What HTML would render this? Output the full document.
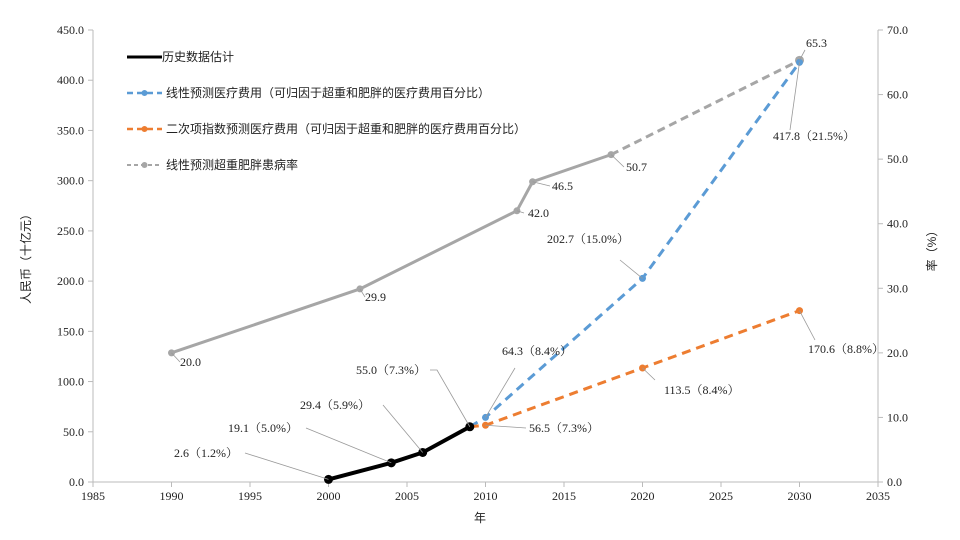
<!DOCTYPE html>
<html><head><meta charset="utf-8">
<style>
html,body{margin:0;padding:0;background:#fff;}
svg{display:block;font-family:"Liberation Serif","Noto Serif CJK SC",serif;}
.cj{font-family:"Liberation Sans","Noto Sans CJK SC",sans-serif;}
</style></head>
<body>
<svg id="chart" width="960" height="540" viewBox="0 0 960 540"></svg>
<script>
const xTicks=[1985,1990,1995,2000,2005,2010,2015,2020,2025,2030,2035];
const yTicks=[0,50,100,150,200,250,300,350,400,450];
const y2Ticks=[0,10,20,30,40,50,60,70];
const histYears=[2000,2004,2006,2009];
const histVals=[2.6,19.1,29.4,55.0];
const histLabels=["2.6（1.2%）","19.1（5.0%）","29.4（5.9%）","55.0（7.3%）"];
const linYears=[2009,2010,2020,2030];
const linVals=[55.0,64.3,202.7,417.8];
const linLabels=[null,"64.3（8.4%）","202.7（15.0%）","417.8（21.5%）"];
const quadYears=[2009,2010,2020,2030];
const quadVals=[55.0,56.5,113.5,170.6];
const quadLabels=[null,"56.5（7.3%）","113.5（8.4%）","170.6（8.8%）"];
const prevYears=[1990,2002,2012,2013,2018,2030];
const prevVals=[20.0,29.9,42.0,46.5,50.7,65.3];
const prevLabels=["20.0","29.9","42.0","46.5","50.7","65.3"];

const L=93,R=878,T=30,B=482;
const X=v=>L+(v-1985)/(2035-1985)*(R-L);
const Y=v=>B-v/450*(B-T);
const Y2=v=>B-v/70*(B-T);
const svg=document.getElementById('chart');
const NS='http://www.w3.org/2000/svg';
function mk(tag,attrs,parent){const e=document.createElementNS(NS,tag);for(const k in attrs)e.setAttribute(k,attrs[k]);(parent||svg).appendChild(e);return e;}
function txt(s,x,y,attrs){const t=mk('text',Object.assign({x:x,y:y,'font-size':12,fill:'#222'},attrs||{}));t.textContent=s;return t;}

let a=mk('line',{x1:L,y1:B,x2:R,y2:B,stroke:'#bbb'});

a=mk('line',{x1:L,y1:T,x2:L,y2:B,stroke:'#bbb'});

a=mk('line',{x1:R,y1:T,x2:R,y2:B,stroke:'#bbb'});

xTicks.forEach(v=>{mk('line',{x1:X(v),y1:B,x2:X(v),y2:B+5,stroke:'#bbb'});
 const t=txt(v,X(v),B+18,{'text-anchor':'middle'});
 });
yTicks.forEach(v=>{mk('line',{x1:L-5,y1:Y(v),x2:L,y2:Y(v),stroke:'#bbb'});
 const t=txt(v.toFixed(1),L-9,Y(v)+4,{'text-anchor':'end'});
 });
y2Ticks.forEach(v=>{mk('line',{x1:R,y1:Y2(v),x2:R+5,y2:Y2(v),stroke:'#bbb'});
 const t=txt(v.toFixed(1),R+9,Y2(v)+4,{});
 });
let t=txt('年',480,522,{'text-anchor':'middle',class:'cj'});

t=txt('人民币（十亿元）',0,0,{'text-anchor':'middle',class:'cj',transform:'translate(30,256) rotate(-90)'});

t=txt('率（%）',0,0,{'text-anchor':'middle',class:'cj',transform:'translate(936,248) rotate(-90)'});


function pts(xs,vs,f){return xs.map((x,i)=>X(x)+','+f(vs[i])).join(' ');}
let p=mk('polyline',{points:pts(prevYears.slice(0,5),prevVals.slice(0,5),Y2),fill:'none',stroke:'#a6a6a6','stroke-width':3});

p=mk('polyline',{points:pts(prevYears.slice(4),prevVals.slice(4),Y2),fill:'none',stroke:'#a6a6a6','stroke-width':3,'stroke-dasharray':'8,5'});

p=mk('polyline',{points:pts(linYears,linVals,Y),fill:'none',stroke:'#5b9bd5','stroke-width':3,'stroke-dasharray':'9,6'});

p=mk('polyline',{points:pts(quadYears,quadVals,Y),fill:'none',stroke:'#ed7d31','stroke-width':3,'stroke-dasharray':'9,6'});

p=mk('polyline',{points:pts(histYears,histVals,Y),fill:'none',stroke:'#000','stroke-width':4});


prevYears.forEach((x,i)=>{const c=mk('circle',{cx:X(x),cy:Y2(prevVals[i]),r:i==5?4.5:3.5,fill:'#a6a6a6'});
 });
linYears.forEach((x,i)=>{if(!i)return;const c=mk('circle',{cx:X(x),cy:Y(linVals[i]),r:3.5,fill:'#5b9bd5'});
 });
quadYears.forEach((x,i)=>{if(!i)return;const c=mk('circle',{cx:X(x),cy:Y(quadVals[i]),r:3.5,fill:'#ed7d31'});
 });
histYears.forEach((x,i)=>{const c=mk('circle',{cx:X(x),cy:Y(histVals[i]),r:4.5,fill:'#000'});
 });

function lab(s,tx,ty,px,py,lx,ly,name){
 if(lx!==undefined){const l=mk('polyline',{points:(lx)+','+ly+' '+px+','+py,fill:'none',stroke:'#999','stroke-width':0.8});
  }
 const t=txt(s,tx,ty,{});
 }
const hl=[[174,457,245,453],[228,432,306,428],[300,409,383,405],[356,374,430,370]];
histYears.forEach((x,i)=>{const h=hl[i];
 if(i==3){const l=mk('polyline',{points:'430,370 437,370 '+X(x)+','+Y(histVals[i]),fill:'none',stroke:'#999','stroke-width':0.8});
  
  lab(histLabels[i],h[0],h[1],0,0,undefined,0,'historical-value-label');}
 else lab(histLabels[i],h[0],h[1],X(x),Y(histVals[i]),h[2],h[3],'historical-value-label');});
const ll=[null,[502,355,515,368],[547,243,620,260],[773,140,790,130]];
linYears.forEach((x,i)=>{if(!ll[i])return;const h=ll[i];lab(linLabels[i],h[0],h[1],X(x),Y(linVals[i]),h[2],h[3],'linear-cost-label');});
const ql=[null,[529,432,526,428],[664,394,655,380],[808,353,815,340]];
quadYears.forEach((x,i)=>{if(!ql[i])return;const h=ql[i];lab(quadLabels[i],h[0],h[1],X(x),Y(quadVals[i]),h[2],h[3],'quadratic-cost-label');});
const pl=[[180,366,180,362],[365,301,365,297],[528,217,524,213],[552,190,550,186],[626,171,624,167],[806,47,805,50]];
prevYears.forEach((x,i)=>{const h=pl[i];lab(prevLabels[i],h[0],h[1],X(x),Y2(prevVals[i]),h[2],h[3],'prevalence-label');});

const leg=[['历史数据估计','#000',0,3],['线性预测医疗费用（可归因于超重和肥胖的医疗费用百分比）','#5b9bd5','6,4',2.5],['二次项指数预测医疗费用（可归因于超重和肥胖的医疗费用百分比）','#ed7d31','6,4',2.5],['线性预测超重肥胖患病率','#a6a6a6','4,3',2]];
leg.forEach((d,i)=>{const g=mk('g',{});
 const y=57+i*36;
 mk('line',{x1:127,y1:y,x2:162,y2:y,stroke:d[1],'stroke-width':d[3],'stroke-dasharray':d[2]?d[2]:'none'},g);
 if(i)mk('circle',{cx:144.5,cy:y,r:3,fill:d[1]},g);
 const t=mk('text',{x:i?166:162,y:y+4,'font-size':12,fill:'#222',class:'cj'},g);t.textContent=d[0];});
</script>
</body></html>
